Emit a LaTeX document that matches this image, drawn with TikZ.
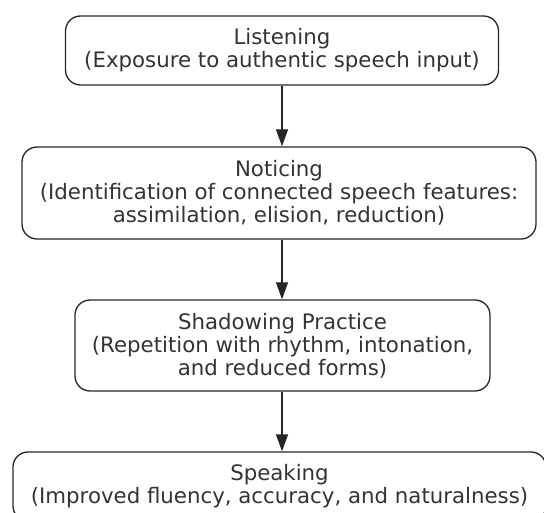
\documentclass[tikz,border=0pt]{standalone}
\usepackage{fontspec}
\setmainfont{DejaVu Sans}
\usetikzlibrary{arrows.meta}
\begin{document}
\begin{tikzpicture}[x=1pt,y=-1pt,
  stage/.style={draw=black!85, line width=1.3pt, rounded corners=15pt, align=center,
    inner sep=0pt, font=\fontsize{21.3}{23}\selectfont, text=black!80},
  flow/.style={draw=black!85, line width=1.3pt, -{Triangle[length=17pt,width=12pt]}}]
\useasboundingbox (0,0) rectangle (544,513);
\clip (0,0) rectangle (544,513);
\node[stage, minimum width=433pt, minimum height=69pt] (listen) at (282,50.5)
  {Listening\\(Exposure to authentic speech input)};
\node[stage, minimum width=514pt, minimum height=92pt] (notice) at (279,193)
  {Noticing\\(Identification of connected speech features:\\assimilation, elision, reduction)};
\node[stage, minimum width=415pt, minimum height=91pt] (shadow) at (282.5,345.5)
  {Shadowing Practice\\(Repetition with rhythm, intonation,\\and reduced forms)};
\node[stage, minimum width=533pt, minimum height=69pt] (speak) at (279.5,486.5)
  {Speaking\\(Improved fluency, accuracy, and naturalness)};
\draw[flow] (listen.south -| 282,0) -- (notice.north -| 282,0);
\draw[flow] (notice.south -| 282,0) -- (shadow.north -| 282,0);
\draw[flow] (shadow.south -| 282,0) -- (speak.north -| 282,0);
\end{tikzpicture}
\end{document}
